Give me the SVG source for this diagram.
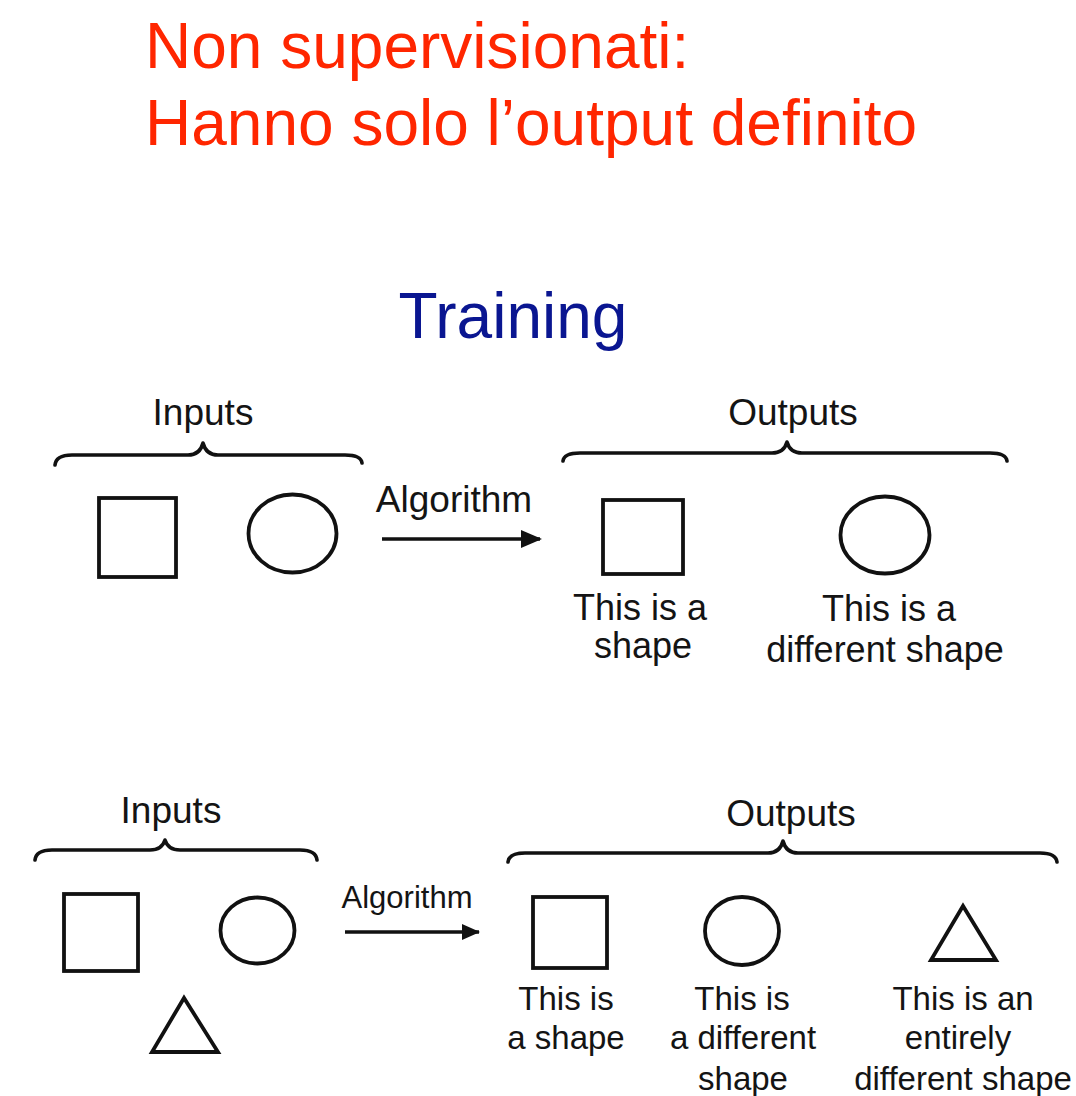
<svg xmlns="http://www.w3.org/2000/svg" width="1076" height="1096" viewBox="0 0 1076 1096">
  <defs>
    <style>
      text { font-family: "Liberation Sans", Arial, Helvetica, sans-serif; }
      .title { fill: #FF2600; font-size: 64px; }
      .heading { fill: #0A1691; font-size: 64px; text-anchor: middle; }
      .lbl { fill: #141414; font-size: 37px; text-anchor: middle; }
      .cap { fill: #141414; font-size: 33px; text-anchor: middle; }
      .shape { fill: none; stroke: #111; stroke-width: 3.8; stroke-linejoin: miter; }
      .brace { fill: none; stroke: #111; stroke-width: 3.6; stroke-linecap: round; stroke-linejoin: round; }
      .conn { fill: none; stroke: #111; stroke-width: 3.6; }
    </style>
    <marker id="head" markerUnits="userSpaceOnUse" markerWidth="22" markerHeight="20" refX="19" refY="9" orient="auto">
      <path d="M0,0 L21,9 L0,18 Z" fill="#111"/>
    </marker>
    <marker id="headSmall" markerUnits="userSpaceOnUse" markerWidth="20" markerHeight="18" refX="17" refY="8" orient="auto">
      <path d="M0,0 L18,8 L0,16 Z" fill="#111"/>
    </marker>
  </defs>

  <rect width="1076" height="1096" fill="#fff"/>

  <!-- slide title -->
  <g id="title">
    <text class="title" x="145" y="68">Non supervisionati:</text>
    <text class="title" x="145" y="145">Hanno solo l’output definito</text>
  </g>

  <text class="heading" x="513" y="338">Training</text>

  <!-- first example: two shapes in, two groups out -->
  <g id="inputs-1">
    <text class="lbl" x="203" y="425">Inputs</text>
    <rect class="shape" x="99" y="498" width="77" height="79"/>
    <ellipse class="shape" cx="292.5" cy="533.5" rx="44" ry="39"/>
  </g>

  <g id="outputs-1">
    <text class="lbl" x="793" y="425">Outputs</text>
  </g>

  <g id="out-1-square">
    <rect class="shape" x="603" y="500" width="80" height="74"/>
    <text class="cap" x="640" y="620" style="font-size:36px">This is a</text>
    <text class="cap" x="643" y="658" style="font-size:36px">shape</text>
  </g>

  <g id="out-1-circle">
    <ellipse class="shape" cx="885" cy="535" rx="44.5" ry="38.5"/>
    <text class="cap" x="889" y="621" style="font-size:36px">This is a</text>
    <text class="cap" x="885" y="662" style="font-size:36px">different shape</text>
  </g>

  <!-- second example: three shapes in, three groups out -->
  <g id="inputs-2">
    <text class="lbl" x="171" y="823">Inputs</text>
    <rect class="shape" x="64" y="894" width="74" height="77"/>
    <ellipse class="shape" cx="257.5" cy="930.5" rx="37" ry="33"/>
    <polygon class="shape" points="184,998 152,1052 218,1052"/>
  </g>

  <g id="outputs-2">
    <text class="lbl" x="791" y="826">Outputs</text>
  </g>

  <g id="out-2-square">
    <rect class="shape" x="533" y="897" width="74" height="71"/>
    <text class="cap" x="566" y="1010">This is</text>
    <text class="cap" x="566" y="1049">a shape</text>
  </g>

  <g id="out-2-circle">
    <ellipse class="shape" cx="742" cy="931" rx="37" ry="34"/>
    <text class="cap" x="742" y="1010">This is</text>
    <text class="cap" x="743" y="1049">a different</text>
    <text class="cap" x="743" y="1090">shape</text>
  </g>

  <g id="out-2-triangle">
    <polygon class="shape" points="963,906 931,960 996,960"/>
    <text class="cap" x="963" y="1010">This is an</text>
    <text class="cap" x="958" y="1049">entirely</text>
    <text class="cap" x="963" y="1090">different shape</text>
  </g>

  <!-- grouping braces -->
  <g id="braces">
    <path class="brace" d="M55,465 Q56,455 72,455 L188,455 Q200,455 203,443 Q206,455 218,455 L345,455 Q361,455 362,463"/>
    <path class="brace" d="M563,461 Q564,453 580,453 L772,453 Q784,453 787,442 Q790,453 802,453 L990,453 Q1006,453 1007,461"/>
    <path class="brace" d="M35,860 Q36,850 52,850 L150,850 Q162,850 165,840 Q168,850 180,850 L300,850 Q316,850 317,860"/>
    <path class="brace" d="M508,862 Q509,853 525,853 L768,853 Q780,853 783,841 Q786,853 798,853 L1040,853 Q1056,853 1057,862"/>
  </g>

  <!-- algorithm arrows -->
  <g id="connectors">
    <g id="algo-1">
      <text class="lbl" x="454" y="512">Algorithm</text>
      <line class="conn" x1="382" y1="539" x2="540" y2="539" marker-end="url(#head)"/>
    </g>
    <g id="algo-2">
      <text class="lbl" x="407" y="908" style="font-size:31px">Algorithm</text>
      <line class="conn" x1="345" y1="932" x2="479" y2="932" stroke-width="3.2" marker-end="url(#headSmall)"/>
    </g>
  </g>
</svg>
